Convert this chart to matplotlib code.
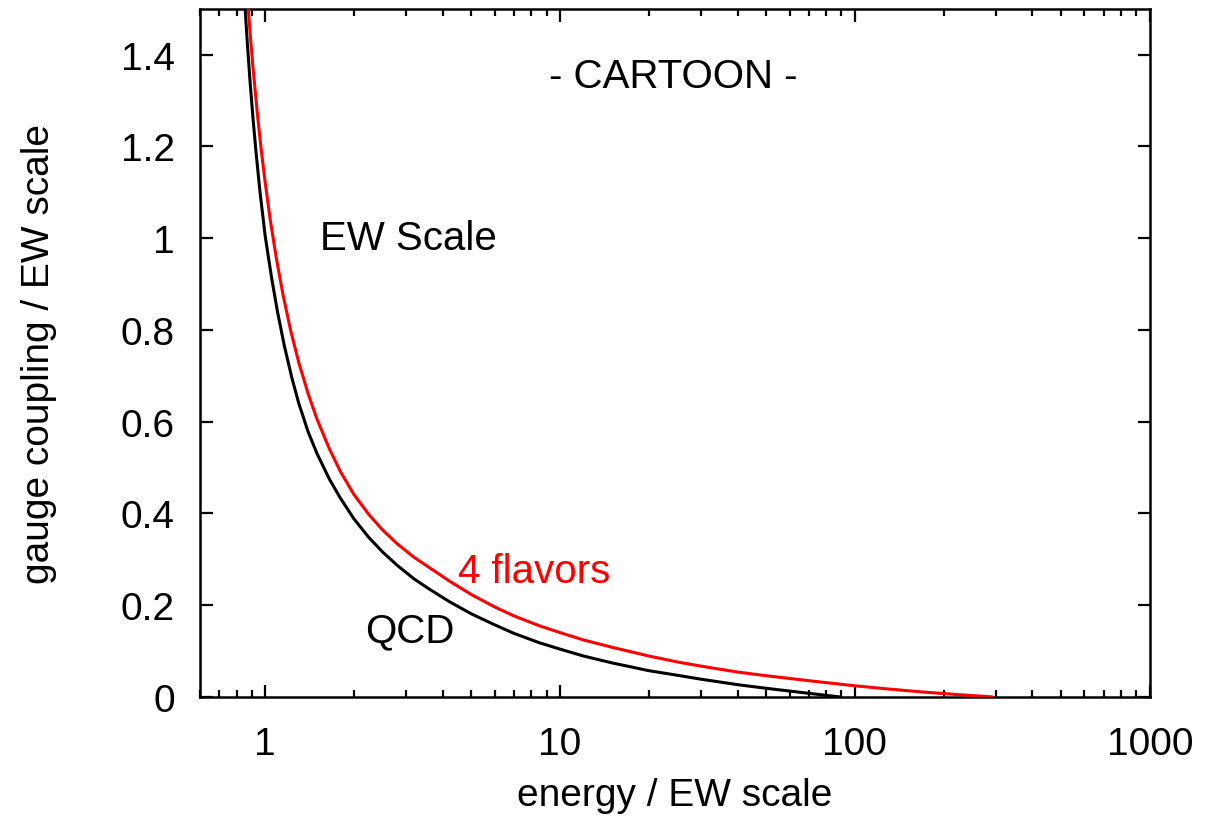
import numpy as np
import matplotlib
matplotlib.use('Agg')
import matplotlib.pyplot as plt
from matplotlib.ticker import LogLocator, NullFormatter

plt.rcParams['font.family'] = ['Liberation Sans', 'DejaVu Sans']

# running coupling, pure QCD
qcd_energy = [0.85, 0.87, 0.89, 0.91, 0.93, 0.96, 1.0, 1.05, 1.1, 1.16,
              1.23, 1.3, 1.4, 1.5, 1.65, 1.8, 2.0, 2.25, 2.5, 2.8,
              3.2, 3.6, 4.2, 5.0, 6.0, 7.0, 8.5, 10, 12, 15,
              20, 25, 30, 40, 50, 60, 70, 80, 88]
qcd_coupling = [1.528, 1.425, 1.336, 1.259, 1.191, 1.102, 1.005, 0.916, 0.841, 0.767,
                0.697, 0.640, 0.577, 0.530, 0.475, 0.433, 0.388, 0.347, 0.316, 0.287,
                0.257, 0.235, 0.208, 0.181, 0.157, 0.138, 0.118, 0.104, 0.089, 0.074,
                0.057, 0.047, 0.0385, 0.0265, 0.0186, 0.0126, 0.0075, 0.0032, 0.0]

# running coupling with 4 extra flavors
flav_energy = [0.87, 0.89, 0.91, 0.94, 0.97, 1.0, 1.04, 1.09, 1.15, 1.22,
               1.3, 1.4, 1.5, 1.65, 1.8, 2.0, 2.25, 2.5, 2.8, 3.2,
               3.6, 4.2, 5.0, 6.0, 7.0, 8.5, 10, 12, 15, 20,
               25, 30, 40, 50, 70, 100, 130, 170, 220, 260, 290]
flav_coupling = [1.528, 1.444, 1.370, 1.274, 1.192, 1.122, 1.041, 0.958, 0.876, 0.799,
                 0.729, 0.660, 0.605, 0.541, 0.491, 0.441, 0.397, 0.364, 0.334, 0.304,
                 0.282, 0.253, 0.223, 0.196, 0.176, 0.155, 0.140, 0.124, 0.108, 0.089,
                 0.076, 0.067, 0.054, 0.046, 0.035, 0.024, 0.017, 0.0105, 0.0051, 0.0020, 0.0]

y_ticks = [0, 0.2, 0.4, 0.6, 0.8, 1.0, 1.2, 1.4]
y_tick_labels = ['0', '0.2', '0.4', '0.6', '0.8', '1', '1.2', '1.4']
x_ticks = [1, 10, 100, 1000]
x_tick_labels = ['1', '10', '100', '1000']

fs = 28
fs_note = 29

fig = plt.figure(figsize=(12.18, 8.2), dpi=100)
ax = fig.add_axes([0.164, 0.149, 0.780, 0.839])

ax.plot(qcd_energy, qcd_coupling, color='black', lw=2.2, zorder=3)
ax.plot(flav_energy, flav_coupling, color='#ff0000', lw=2.2, zorder=3)

ax.set_xscale('log')
ax.set_xlim(0.6, 1000)
ax.set_ylim(0, 1.5)

ax.set_xticks(x_ticks)
ax.set_xticklabels(x_tick_labels)
ax.xaxis.set_minor_locator(LogLocator(base=10, subs=np.arange(2, 10)))
ax.xaxis.set_minor_formatter(NullFormatter())
ax.set_yticks(y_ticks)
ax.set_yticklabels(y_tick_labels)

ax.tick_params(which='both', direction='in', top=True, right=True,
               labelsize=fs, width=1.6)
ax.tick_params(which='major', length=9)
ax.tick_params(which='minor', length=5)
ax.tick_params(axis='x', pad=21)
ax.tick_params(axis='y', pad=18)
for sp in ax.spines.values():
    sp.set_linewidth(1.8)

ax.set_xlabel('energy / EW scale', fontsize=fs, labelpad=11)
ax.set_ylabel('gauge coupling / EW scale', fontsize=fs, labelpad=46)

ax.text(24.3, 1.354, '- CARTOON -', fontsize=fs_note, ha='center', va='center')
ax.text(1.53, 1.0, 'EW Scale', fontsize=fs_note, ha='left', va='center')
ax.text(4.49, 0.275, '4 flavors', fontsize=fs_note, ha='left', va='center', color='#ff0000')
ax.text(2.19, 0.144, 'QCD', fontsize=fs_note, ha='left', va='center')

fig.savefig('out.png', dpi=100)
plt.close(fig)
